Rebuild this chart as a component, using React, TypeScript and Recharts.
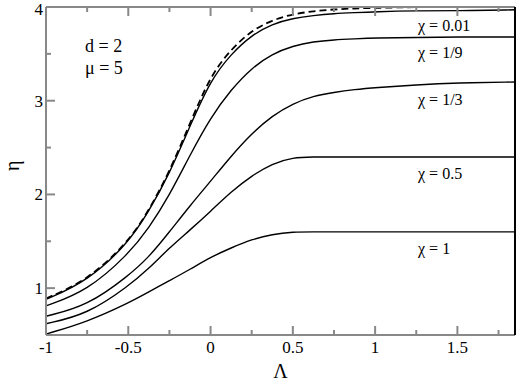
import { LineChart, Line, XAxis, YAxis, Label } from 'recharts';

// Λ sample points shared by all curves
const lambda = [-1, -0.75, -0.5, -0.375, -0.25, -0.125, 0, 0.125, 0.25, 0.375, 0.5, 0.625, 0.75, 0.875, 1, 1.25, 1.5, 1.85];

// η values, one array per curve
const etaDashed = [0.89, 1.08, 1.49, 1.83, 2.24, 2.76, 3.27, 3.55, 3.75, 3.86, 3.925, 3.955, 3.975, 3.985, 3.99, 4.0, 4.0, 4.0];
const etaChi001 = [0.88, 1.07, 1.48, 1.82, 2.22, 2.73, 3.22, 3.5, 3.7, 3.82, 3.88, 3.91, 3.93, 3.94, 3.95, 3.96, 3.96, 3.97];
const etaChi19 = [0.81, 0.97, 1.36, 1.64, 1.99, 2.42, 2.82, 3.12, 3.35, 3.5, 3.585, 3.63, 3.65, 3.66, 3.67, 3.675, 3.68, 3.68];
const etaChi13 = [0.7, 0.81, 1.13, 1.33, 1.6, 1.88, 2.14, 2.41, 2.65, 2.84, 2.97, 3.05, 3.09, 3.12, 3.14, 3.17, 3.19, 3.2];
const etaChi05 = [0.62, 0.72, 1.02, 1.21, 1.43, 1.62, 1.82, 2.03, 2.2, 2.33, 2.395, 2.4, 2.4, 2.4, 2.4, 2.4, 2.4, 2.4];
const etaChi1 = [0.51, 0.64, 0.84, 0.96, 1.08, 1.2, 1.33, 1.43, 1.52, 1.575, 1.6, 1.6, 1.6, 1.6, 1.6, 1.6, 1.6, 1.6];

const xTicks = [-1, -0.75, -0.5, -0.25, 0, 0.25, 0.5, 0.75, 1, 1.25, 1.5, 1.75];
const yTicks = [0.5, 1, 1.5, 2, 2.5, 3, 3.5, 4];

const curveLabels = ['χ = 0.01', 'χ = 1/9', 'χ = 1/3', 'χ = 0.5', 'χ = 1'];
const paramLabels = ['d = 2', 'μ = 5'];

const data = lambda.map((x, i) => ({
  x,
  dashed: etaDashed[i],
  c001: etaChi001[i],
  c19: etaChi19[i],
  c13: etaChi13[i],
  c05: etaChi05[i],
  c1: etaChi1[i],
}));

const FONT = 'Liberation Serif';
const AXIS = '#888';

const isMajorX = (v: number) => Math.abs(v * 2 - Math.round(v * 2)) < 1e-6;
const isMajorY = (v: number) => Math.abs(v - Math.round(v)) < 1e-6;

const BottomTick = (props: any) => {
  const { x, y, payload } = props;
  const major = isMajorX(payload.value);
  return (
    <g>
      <line x1={x} x2={x} y1={y} y2={y - (major ? 9 : 5)} stroke={AXIS} strokeWidth={2} />
      {major && (
        <text x={x} y={y + 18} textAnchor="middle" fontFamily={FONT} fontSize={17} fill="#000">
          {String(payload.value)}
        </text>
      )}
    </g>
  );
};

const TopTick = (props: any) => {
  const { x, y, payload } = props;
  const major = isMajorX(payload.value);
  return <line x1={x} x2={x} y1={y} y2={y + (major ? 9 : 5)} stroke={AXIS} strokeWidth={2} />;
};

const LeftTick = (props: any) => {
  const { x, y, payload } = props;
  const major = isMajorY(payload.value);
  // keep the top label inside the page
  const ty = Math.max(y + 6, 15);
  return (
    <g>
      <line x1={x} x2={x + (major ? 9 : 5)} y1={y} y2={y} stroke={AXIS} strokeWidth={2} />
      {major && (
        <text x={x - 3} y={ty} textAnchor="end" fontFamily={FONT} fontSize={17} fill="#000">
          {String(payload.value)}
        </text>
      )}
    </g>
  );
};

const RightTick = (props: any) => {
  const { x, y, payload } = props;
  const major = isMajorY(payload.value);
  return <line x1={x} x2={x - (major ? 9 : 5)} y1={y} y2={y} stroke={AXIS} strokeWidth={2} />;
};

export default function App() {
  return (
    <div style={{ position: 'absolute', left: 0, top: 0, width: 517, height: 382 }}>
      <LineChart width={517} height={382} data={data} margin={{ top: 0, right: 0, bottom: 0, left: 0 }}>
        <XAxis
          xAxisId="b"
          dataKey="x"
          type="number"
          domain={[-1, 1.85]}
          ticks={xTicks}
          height={47}
          tickSize={0}
          tickMargin={0}
          tickLine={false}
          tick={<BottomTick />}
          axisLine={{ stroke: AXIS, strokeWidth: 2 }}
          interval={0}
        >
          <Label value="Λ" position="insideBottom" offset={4} style={{ fontFamily: FONT, fontSize: 20, fill: '#000' }} />
        </XAxis>
        <XAxis
          xAxisId="t"
          orientation="top"
          dataKey="x"
          type="number"
          domain={[-1, 1.85]}
          ticks={xTicks}
          height={7}
          tickSize={0}
          tickMargin={0}
          tickLine={false}
          tick={<TopTick />}
          axisLine={{ stroke: AXIS, strokeWidth: 2 }}
          interval={0}
        />
        <YAxis
          yAxisId="l"
          type="number"
          domain={[0.5, 4]}
          ticks={yTicks}
          width={46}
          tickSize={0}
          tickMargin={0}
          tickLine={false}
          tick={<LeftTick />}
          axisLine={{ stroke: AXIS, strokeWidth: 2 }}
          interval={0}
          allowDataOverflow
        >
          <Label value="η" angle={-90} position="insideLeft" offset={12} style={{ fontFamily: FONT, fontSize: 20, fill: '#000' }} />
        </YAxis>
        <YAxis
          yAxisId="r"
          orientation="right"
          type="number"
          domain={[0.5, 4]}
          ticks={yTicks}
          width={2}
          tickSize={0}
          tickMargin={0}
          tickLine={false}
          tick={<RightTick />}
          axisLine={{ stroke: '#000', strokeWidth: 2 }}
          interval={0}
        />
        {(['c1', 'c05', 'c13', 'c19', 'c001'] as const).map((k) => (
          <Line
            key={k}
            xAxisId="b"
            yAxisId="l"
            type="basis"
            dataKey={k}
            stroke="#000"
            strokeWidth={1.4}
            dot={false}
            isAnimationActive={false}
          />
        ))}
        <Line
          xAxisId="b"
          yAxisId="l"
          type="basis"
          dataKey="dashed"
          stroke="#000"
          strokeWidth={1.8}
          strokeDasharray="7 4"
          dot={false}
          isAnimationActive={false}
        />
      </LineChart>
      <svg
        width={517}
        height={382}
        style={{ position: 'absolute', left: 0, top: 0, pointerEvents: 'none' }}
      >
        <g fontFamily={FONT} fontSize={18} fill="#000">
          <text x={85} y={52}>{paramLabels[0]}</text>
          <text x={85} y={74}>{paramLabels[1]}</text>
        </g>
        <g fontFamily={FONT} fontSize={16} fill="#000">
          <text x={418} y={31}>{curveLabels[0]}</text>
          <text x={418} y={58}>{curveLabels[1]}</text>
          <text x={418} y={105}>{curveLabels[2]}</text>
          <text x={418} y={179}>{curveLabels[3]}</text>
          <text x={418} y={254}>{curveLabels[4]}</text>
        </g>
      </svg>
    </div>
  );
}
